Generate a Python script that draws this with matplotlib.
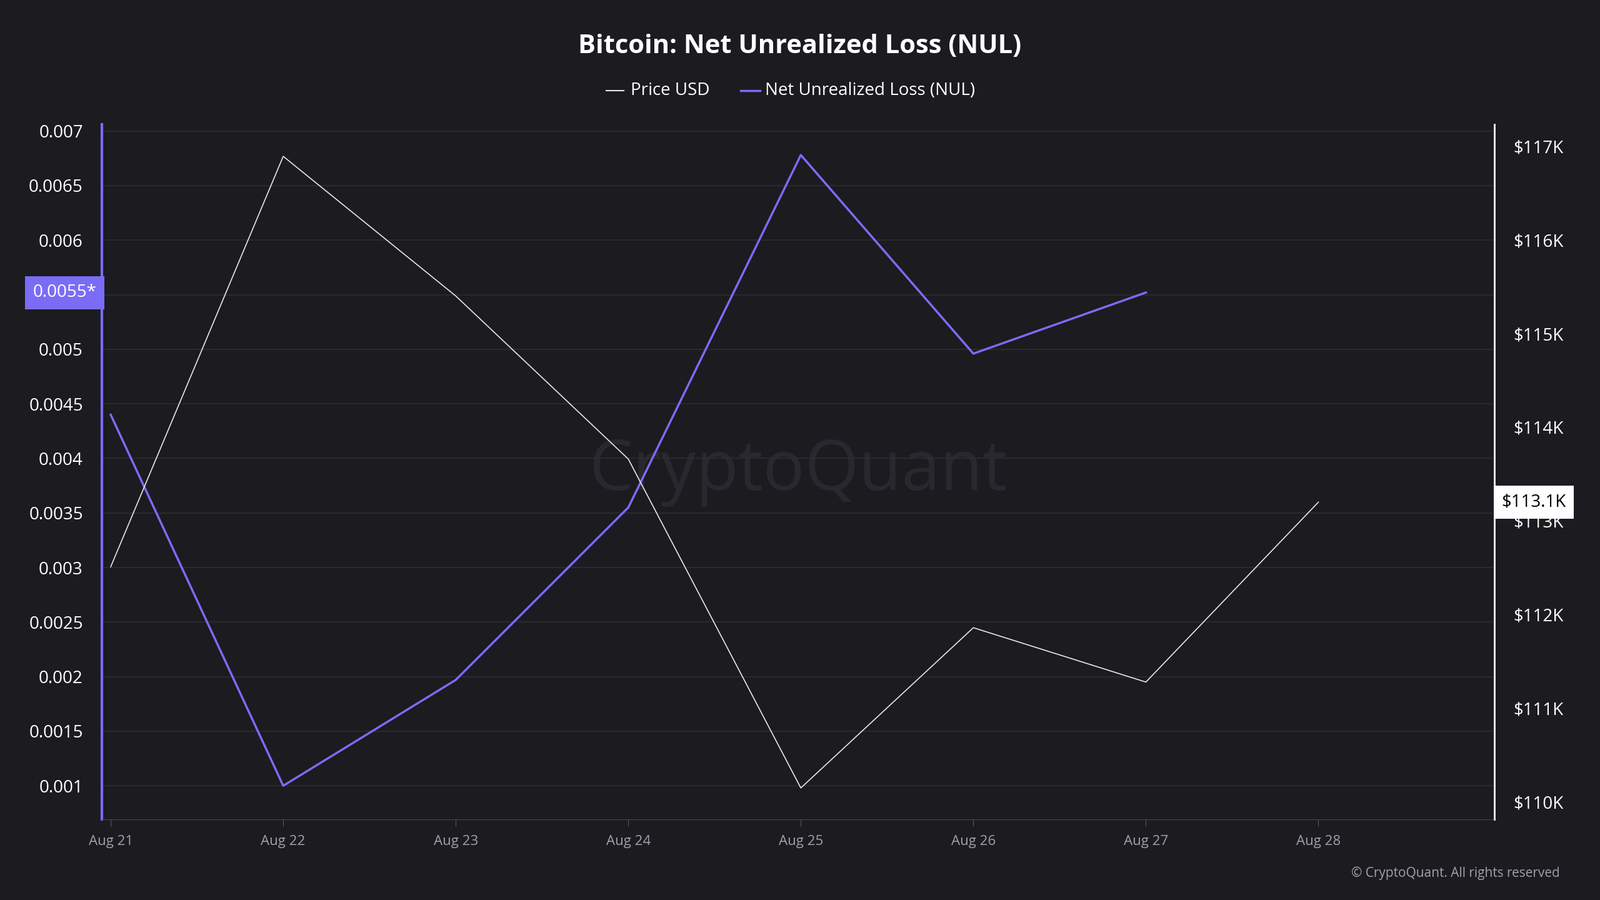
import matplotlib
matplotlib.use('Agg')
import matplotlib.pyplot as plt
import numpy as np

dates = ['Aug 21', 'Aug 22', 'Aug 23', 'Aug 24', 'Aug 25', 'Aug 26', 'Aug 27', 'Aug 28']
price_k = [112.51, 116.89, 115.40, 113.66, 110.15, 111.86, 111.28, 113.2]
nul = [0.0044, 0.0010, 0.00197, 0.00355, 0.00678, 0.00496, 0.00552]
left_ticks = [0.001, 0.0015, 0.002, 0.0025, 0.003, 0.0035, 0.004, 0.0045,
              0.005, 0.0055, 0.006, 0.0065, 0.007]
right_ticks = [110, 111, 112, 113, 114, 115, 116, 117]

BG = '#1b1b20'
PURPLE = '#7b6cf6'
plt.rcParams['font.family'] = 'Open Sans'

fig = plt.figure(figsize=(25.6, 14.4), dpi=100, facecolor=BG)
ax = fig.add_axes([0.0638, 0.0896, 0.8702, 0.7721], facecolor=BG)
ax2 = ax.twinx()

x = np.arange(len(dates))
ax.plot(x[:len(nul)], nul, color=PURPLE, lw=2.5, zorder=3)
ax2.plot(x, price_k, color='#e8e8e8', lw=1.2, zorder=2)

ax.set_xlim(-0.05, 8.02)
ax2.set_xlim(-0.05, 8.02)
ax.set_ylim(0.000692, 0.00706)
ax2.set_ylim(109.815, 117.23)

ax.set_xticks(x)
ax.set_xticklabels(dates, color='#a0a0a8', fontsize=16)
ax.set_yticks(left_ticks)
# the 0.0055 tick is covered by the highlighted current-value label
ax.set_yticklabels(['' if t == 0.0055 else f'{t:g}' for t in left_ticks],
                   color='white', fontsize=20)
ax2.set_yticks(right_ticks)
ax2.set_yticklabels([f'${t}K' for t in right_ticks], color='white', fontsize=20)
ax.tick_params(axis='x', length=8, color='#555560', pad=10)
ax.tick_params(axis='y', length=0, pad=22)
ax2.tick_params(axis='y', length=0, pad=22)

ax.grid(axis='y', color='#2c2c33', lw=1.2)
for a in (ax, ax2):
    for s in a.spines.values():
        s.set_visible(False)
ax.spines['left'].set_visible(True)
ax.spines['left'].set_color(PURPLE)
ax.spines['left'].set_linewidth(3)
ax2.spines['right'].set_visible(True)
ax2.spines['right'].set_color('white')
ax2.spines['right'].set_linewidth(2)
ax.spines['bottom'].set_visible(True)
ax.spines['bottom'].set_color('#44444c')

# highlighted current-value labels
ax.text(-0.004, nul[-1], '0.0055*', transform=ax.get_yaxis_transform(),
        ha='right', va='center', fontsize=20, color='white', zorder=10, clip_on=False,
        bbox=dict(boxstyle='square,pad=0.45', fc=PURPLE, ec='none'))
ax2.text(1.005, price_k[-1], f'${price_k[-1] - 0.1:.1f}K', transform=ax2.get_yaxis_transform(),
         ha='left', va='center', fontsize=20, color='black', zorder=10, clip_on=False,
         bbox=dict(boxstyle='square,pad=0.45', fc='white', ec='none'))

ax.text(0.5, 0.5, 'CryptoQuant', transform=ax.transAxes, ha='center', va='center',
        fontsize=80, color='#28282e', zorder=1)

fig.text(0.5, 0.948, 'Bitcoin: Net Unrealized Loss (NUL)', ha='center', va='center',
         fontsize=30, fontweight='bold', color='white')
fig.lines.append(plt.Line2D([0.379, 0.39], [0.899, 0.899], color='#e8e8e8', lw=1.5,
                            transform=fig.transFigure))
fig.text(0.394, 0.899, 'Price USD', ha='left', va='center', fontsize=20, color='white')
fig.lines.append(plt.Line2D([0.463, 0.475], [0.899, 0.899], color=PURPLE, lw=2.5,
                            transform=fig.transFigure))
fig.text(0.478, 0.899, 'Net Unrealized Loss (NUL)', ha='left', va='center', fontsize=20, color='white')
fig.text(0.975, 0.03, '© CryptoQuant. All rights reserved', ha='right', va='center',
         fontsize=15, color='#a0a0a8')

fig.savefig('out.png', dpi=100, facecolor=BG)
